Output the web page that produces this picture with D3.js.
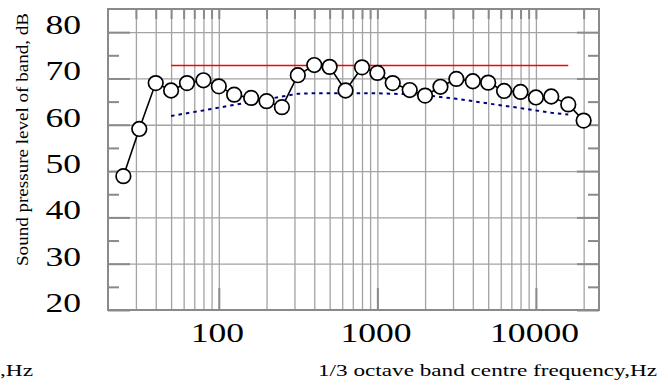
<!DOCTYPE html>
<html>
<head>
<meta charset="utf-8">
<script src="https://cdn.jsdelivr.net/npm/d3@7"></script>
<style>
  body { margin: 0; background: #fff; }
  text { font-family: "Liberation Serif", "Times New Roman", serif; fill: #000; }
</style>
</head>
<body>
<div class="chart"></div>
<script>
// 1/3 octave band centre frequencies (Hz) and measured levels (dB)
const bandFreqs = [25, 31.5, 40, 50, 63, 80, 100, 125, 160, 200, 250, 315, 400, 500, 630,
  800, 1000, 1250, 1600, 2000, 2500, 3150, 4000, 5000, 6300, 8000, 10000, 12500, 16000, 20000];
const measuredLevels = [48.9, 59.1, 69.0, 67.4, 69.0, 69.6, 68.3, 66.5, 65.8, 65.1, 63.8, 70.7, 72.9, 72.5, 67.4,
  72.4, 71.2, 69.0, 67.5, 66.3, 68.2, 69.9, 69.4, 69.1, 67.3, 67.1, 65.9, 66.1, 64.4, 60.9];

// flat red limit line
const limitFreqs = [50, 16000];
const limitLevels = [72.8, 72.8];

// dotted reference curve
const refFreqs = [50, 63, 80, 100, 125, 160, 200, 250, 315, 400, 500, 630, 800, 1000,
  1250, 1600, 2000, 2500, 3150, 4000, 5000, 6300, 8000, 10000, 12500, 16000];
const refLevels = [61.9, 62.5, 63.1, 63.7, 64.3, 64.9, 65.5, 66.1, 66.7, 66.8, 66.8, 66.8, 66.8, 66.8,
  66.7, 66.6, 66.4, 66.0, 65.6, 65.1, 64.6, 64.1, 63.6, 63.1, 62.6, 62.2];

const xTickValues = [100, 1000, 10000];
const yTickValues = [20, 30, 40, 50, 60, 70, 80];
const yMinorTicks = [25, 35, 45, 55, 65, 75];

const serif = '"Liberation Serif", "Times New Roman", serif';

const margin = { top: 9, right: 69, bottom: 75, left: 108 };
const width = 668 - margin.left - margin.right;
const height = 385 - margin.top - margin.bottom;

const x = d3.scaleLog().domain([20, 25000]).range([0, width]);
const y = d3.scaleLinear().domain([20, 85]).range([height, 0]);

const svg = d3.select(".chart").append("svg")
  .attr("width", 668)
  .attr("height", 385);

const g = svg.append("g")
  .attr("transform", "translate(" + margin.left + "," + margin.top + ")");

// grid
const gridFreqs = x.ticks().filter(d => d > 20);
g.append("g").attr("class", "grid x")
  .attr("transform", "translate(0," + height + ")")
  .call(d3.axisBottom(x).tickValues(gridFreqs).tickSize(-height).tickFormat(""));
g.append("g").attr("class", "grid y")
  .call(d3.axisLeft(y).tickValues(yTickValues.filter(d => d > 20)).tickSize(-width).tickFormat(""));
g.selectAll(".grid line").attr("stroke", "#a3a3a3").attr("stroke-width", 1.3);
g.selectAll(".grid .domain").remove();

// inward tick marks
function tickLayer(axis, tx, ty) {
  const t = g.append("g").attr("class", "ticks")
    .attr("transform", "translate(" + tx + "," + ty + ")")
    .call(axis.tickFormat(""));
  t.select(".domain").remove();
  return t;
}
tickLayer(d3.axisTop(x).tickValues(gridFreqs).tickSize(-10), 0, 0);
tickLayer(d3.axisBottom(x).tickValues(xTickValues).tickSize(-22), 0, height);
tickLayer(d3.axisLeft(y).tickValues(yTickValues).tickSize(-22), 0, 0);
tickLayer(d3.axisLeft(y).tickValues(yMinorTicks).tickSize(-11), 0, 0);
tickLayer(d3.axisRight(y).tickValues(yTickValues).tickSize(-22), width, 0);
tickLayer(d3.axisRight(y).tickValues(yMinorTicks).tickSize(-11), width, 0);
g.selectAll(".ticks line").attr("stroke", "#8a8a8a").attr("stroke-width", 2);

// frame
g.append("rect")
  .attr("width", width).attr("height", height)
  .attr("fill", "none").attr("stroke", "#8a8a8a").attr("stroke-width", 2);

// tick labels (stretched serif, like the source figure)
const xAxis = g.append("g").attr("class", "x axis")
  .attr("transform", "translate(0," + height + ")")
  .call(d3.axisBottom(x).tickValues(xTickValues).tickSize(0).tickFormat(d3.format("d")));
xAxis.attr("font-family", serif);
xAxis.select(".domain").remove();
xAxis.selectAll("text")
  .attr("y", 32).attr("dy", 0).attr("dx", -1.5)
  .attr("font-size", 28)
  .style("font-family", serif)
  .attr("transform", "scale(1.27,1)");

const yAxis = g.append("g").attr("class", "y axis")
  .call(d3.axisLeft(y).tickValues(yTickValues).tickSize(0));
yAxis.attr("font-family", serif);
yAxis.select(".domain").remove();
yAxis.selectAll("text")
  .attr("x", -27 / 1.27).attr("dy", 1.5)
  .attr("font-size", 28)
  .style("font-family", serif)
  .attr("transform", "scale(1.27,1)");

// series
const line = d3.line().x(d => x(d[0])).y(d => y(d[1]));
g.append("path")
  .datum(d3.zip(limitFreqs, limitLevels))
  .attr("fill", "none").attr("stroke", "#ff0000").attr("stroke-width", 1.6)
  .attr("d", line);

g.append("path")
  .datum(d3.zip(refFreqs, refLevels))
  .attr("fill", "none").attr("stroke", "#000080").attr("stroke-width", 2)
  .attr("stroke-dasharray", "3.5,4")
  .attr("d", line);

g.append("path")
  .datum(d3.zip(bandFreqs, measuredLevels))
  .attr("fill", "none").attr("stroke", "#000").attr("stroke-width", 1.6)
  .attr("d", line);

g.selectAll("circle.pt")
  .data(d3.zip(bandFreqs, measuredLevels))
  .join("circle").attr("class", "pt")
  .attr("cx", d => x(d[0])).attr("cy", d => y(d[1]))
  .attr("r", 7.3)
  .attr("fill", "#fff").attr("stroke", "#000").attr("stroke-width", 1.7);

// axis titles
svg.append("text")
  .attr("x", 318).attr("y", 376)
  .attr("font-size", 17.5)
  .attr("textLength", 339).attr("lengthAdjust", "spacingAndGlyphs")
  .text("1/3 octave band centre frequency,Hz");

svg.append("text")
  .attr("x", 0).attr("y", 376)
  .attr("font-size", 17.5)
  .attr("textLength", 33).attr("lengthAdjust", "spacingAndGlyphs")
  .text(",Hz");

svg.append("text")
  .attr("transform", "translate(28,139.5) rotate(-90)")
  .attr("text-anchor", "middle")
  .attr("font-size", 17)
  .attr("textLength", 253).attr("lengthAdjust", "spacingAndGlyphs")
  .text("Sound pressure level of band, dB");
</script>
</body>
</html>
